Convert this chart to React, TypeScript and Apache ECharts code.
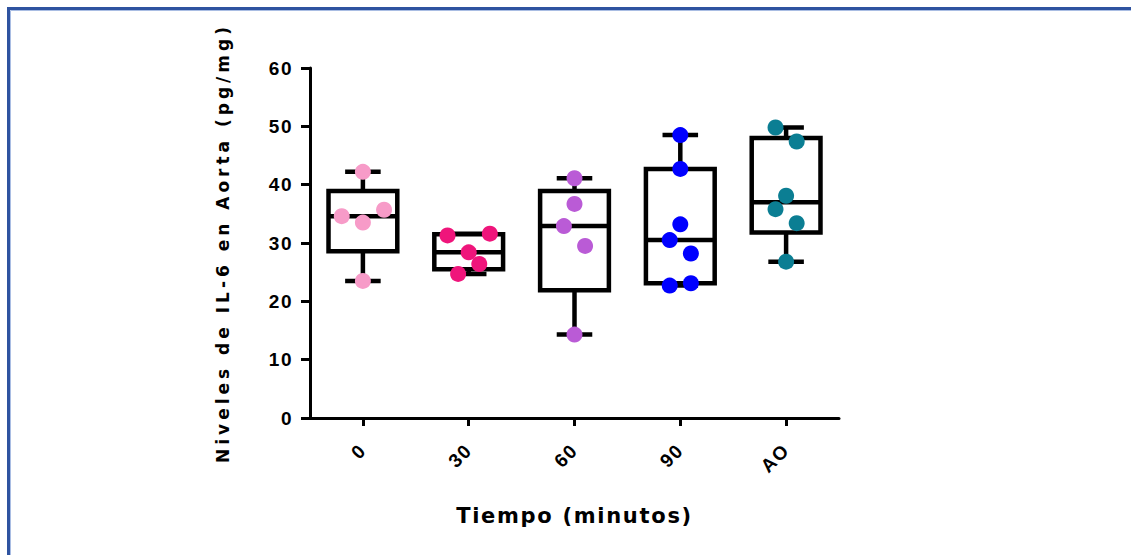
import React, { useEffect, useRef } from "react";
import * as echarts from "echarts";

const categories = ["0", "30", "60", "90", "AO"];
const yMin = 0;
const yMax = 60;
const yInterval = 10;

// box statistics: min, Q1, median, Q3, max
const boxMin = [23.5, 24.7, 14.3, 22.7, 26.8];
const boxQ1 = [28.6, 25.5, 21.9, 23.1, 31.8];
const boxMedian = [34.6, 28.4, 32.9, 30.5, 37.0];
const boxQ3 = [38.9, 31.5, 38.9, 42.7, 48.0];
const boxMax = [42.2, 31.6, 41.1, 48.5, 49.8];

// individual points per group and their horizontal jitter (in category units)
const points0 = [42.2, 34.6, 33.5, 35.7, 23.5];
const jitter0 = [0, -0.2, 0, 0.2, 0];
const points30 = [31.3, 31.6, 28.4, 26.4, 24.7];
const jitter30 = [-0.2, 0.2, 0, 0.1, -0.1];
const points60 = [41.1, 36.7, 32.9, 29.5, 14.3];
const jitter60 = [0, 0, -0.1, 0.1, 0];
const points90 = [48.5, 42.7, 33.2, 30.5, 28.2, 22.7, 23.1];
const jitter90 = [0, 0, 0, -0.1, 0.1, -0.1, 0.1];
const pointsAO = [49.8, 47.4, 38.1, 35.8, 33.4, 26.8];
const jitterAO = [-0.1, 0.1, 0, -0.1, 0.1, 0];

const groupPoints = [points0, points30, points60, points90, pointsAO];
const groupJitter = [jitter0, jitter30, jitter60, jitter90, jitterAO];
const groupColors = ["#F79BC8", "#EF157B", "#BA5BD6", "#0000FF", "#0B7E93"];

const FONT = "'Liberation Sans', Arial, sans-serif";
const TITLE_FONT = "'DejaVu Sans', sans-serif";

export default function App() {
  const ref = useRef<HTMLDivElement>(null);

  useEffect(() => {
    document.body.style.margin = "0";
    if (!ref.current) return;
    const chart = echarts.init(ref.current, undefined, { renderer: "svg" });

    const boxData = categories.map((_, i) => [
      i,
      boxMin[i],
      boxQ1[i],
      boxMedian[i],
      boxQ3[i],
      boxMax[i],
    ]);

    const scatterSeries = groupPoints.map((pts, g) => ({
      type: "scatter",
      xAxisIndex: 1,
      yAxisIndex: 0,
      z: 5,
      symbol: "circle",
      symbolSize: 16,
      itemStyle: { color: groupColors[g], opacity: 1 },
      data: pts.map((v, k) => [g + groupJitter[g][k], v]),
    }));

    chart.setOption({
      animation: false,
      backgroundColor: "#ffffff",
      graphic: [
        {
          type: "rect",
          shape: { x: 8.5, y: 8.5, width: 1300, height: 800 },
          style: { fill: "none", stroke: "#2F53A0", lineWidth: 3 },
          silent: true,
        },
        {
          type: "rect",
          shape: { x: 10.5, y: 10.5, width: 1300, height: 800 },
          style: { fill: "none", stroke: "#A9BDE3", lineWidth: 1 },
          silent: true,
        },
      ],
      grid: { left: 310, top: 68, width: 529, height: 350, containLabel: false },
      xAxis: [
        {
          type: "category",
          data: categories,
          boundaryGap: true,
          name: "Tiempo (minutos)",
          nameLocation: "middle",
          nameGap: 87,
          nameTextStyle: {
            fontFamily: TITLE_FONT,
            fontWeight: "bold",
            fontSize: 21,
            color: "#000",
          },
          axisLine: { show: true, onZero: false, lineStyle: { color: "#000", width: 3 } },
          axisTick: {
            show: true,
            alignWithLabel: true,
            length: 8,
            lineStyle: { color: "#000", width: 3 },
          },
          axisLabel: {
            interval: 0,
            rotate: 45,
            margin: 29,
            fontFamily: FONT,
            fontWeight: "bold",
            fontSize: 19,
            color: "#000",
          },
          splitLine: { show: false },
        },
        {
          type: "value",
          min: -0.5,
          max: categories.length - 0.5,
          show: false,
          axisLine: { onZero: false },
          splitLine: { show: false },
        },
      ],
      yAxis: {
        type: "value",
        min: yMin,
        max: yMax,
        interval: yInterval,
        name: "Niveles de IL-6 en Aorta (pg/mg)",
        nameLocation: "middle",
        nameRotate: 90,
        nameGap: 79,
        nameTextStyle: {
          fontFamily: TITLE_FONT,
          fontWeight: "bold",
          fontSize: 17,
          color: "#000",
        },
        axisLine: { show: true, onZero: false, lineStyle: { color: "#000", width: 3 } },
        axisTick: { show: true, length: 9, lineStyle: { color: "#000", width: 3 } },
        axisLabel: {
          margin: 17,
          fontFamily: FONT,
          fontWeight: "bold",
          fontSize: 19,
          color: "#000",
        },
        splitLine: { show: false },
      },
      series: [
        {
          type: "custom",
          xAxisIndex: 0,
          yAxisIndex: 0,
          z: 2,
          encode: { x: 0, y: [1, 2, 3, 4, 5] },
          data: boxData,
          renderItem: (params: any, api: any) => {
            const idx = api.value(0);
            const pMin = api.coord([idx, api.value(1)]);
            const cx = pMin[0];
            const yLo = pMin[1];
            const yQ1 = api.coord([idx, api.value(2)])[1];
            const yMed = api.coord([idx, api.value(3)])[1];
            const yQ3 = api.coord([idx, api.value(4)])[1];
            const yHi = api.coord([idx, api.value(5)])[1];
            const band = api.size([1, 0])[0];
            const hw = band * 0.325;
            const cw = band * 0.168;
            const ls = { stroke: "#000", lineWidth: 4.5 };
            return {
              type: "group",
              children: [
                { type: "line", shape: { x1: cx, y1: yHi, x2: cx, y2: yQ3 }, style: ls },
                { type: "line", shape: { x1: cx, y1: yQ1, x2: cx, y2: yLo }, style: ls },
                { type: "line", shape: { x1: cx - cw, y1: yHi, x2: cx + cw, y2: yHi }, style: ls },
                { type: "line", shape: { x1: cx - cw, y1: yLo, x2: cx + cw, y2: yLo }, style: ls },
                {
                  type: "rect",
                  shape: { x: cx - hw, y: yQ3, width: hw * 2, height: yQ1 - yQ3 },
                  style: { fill: "none", stroke: "#000", lineWidth: 4.5 },
                },
                { type: "line", shape: { x1: cx - hw, y1: yMed, x2: cx + hw, y2: yMed }, style: ls },
              ],
            };
          },
        },
        ...scatterSeries,
      ],
    });

    return () => {
      chart.dispose();
    };
  }, []);

  return (
    <>
      <style>{`
        .il6chart text[style*="19px"] { letter-spacing: 1.5px; }
        .il6chart text[style*="21px"] { letter-spacing: 1.7px; }
        .il6chart text[style*="17px"] { letter-spacing: 4px; }
      `}</style>
      <div className="il6chart" ref={ref} style={{ width: 1131, height: 555 }} />
    </>
  );
}
